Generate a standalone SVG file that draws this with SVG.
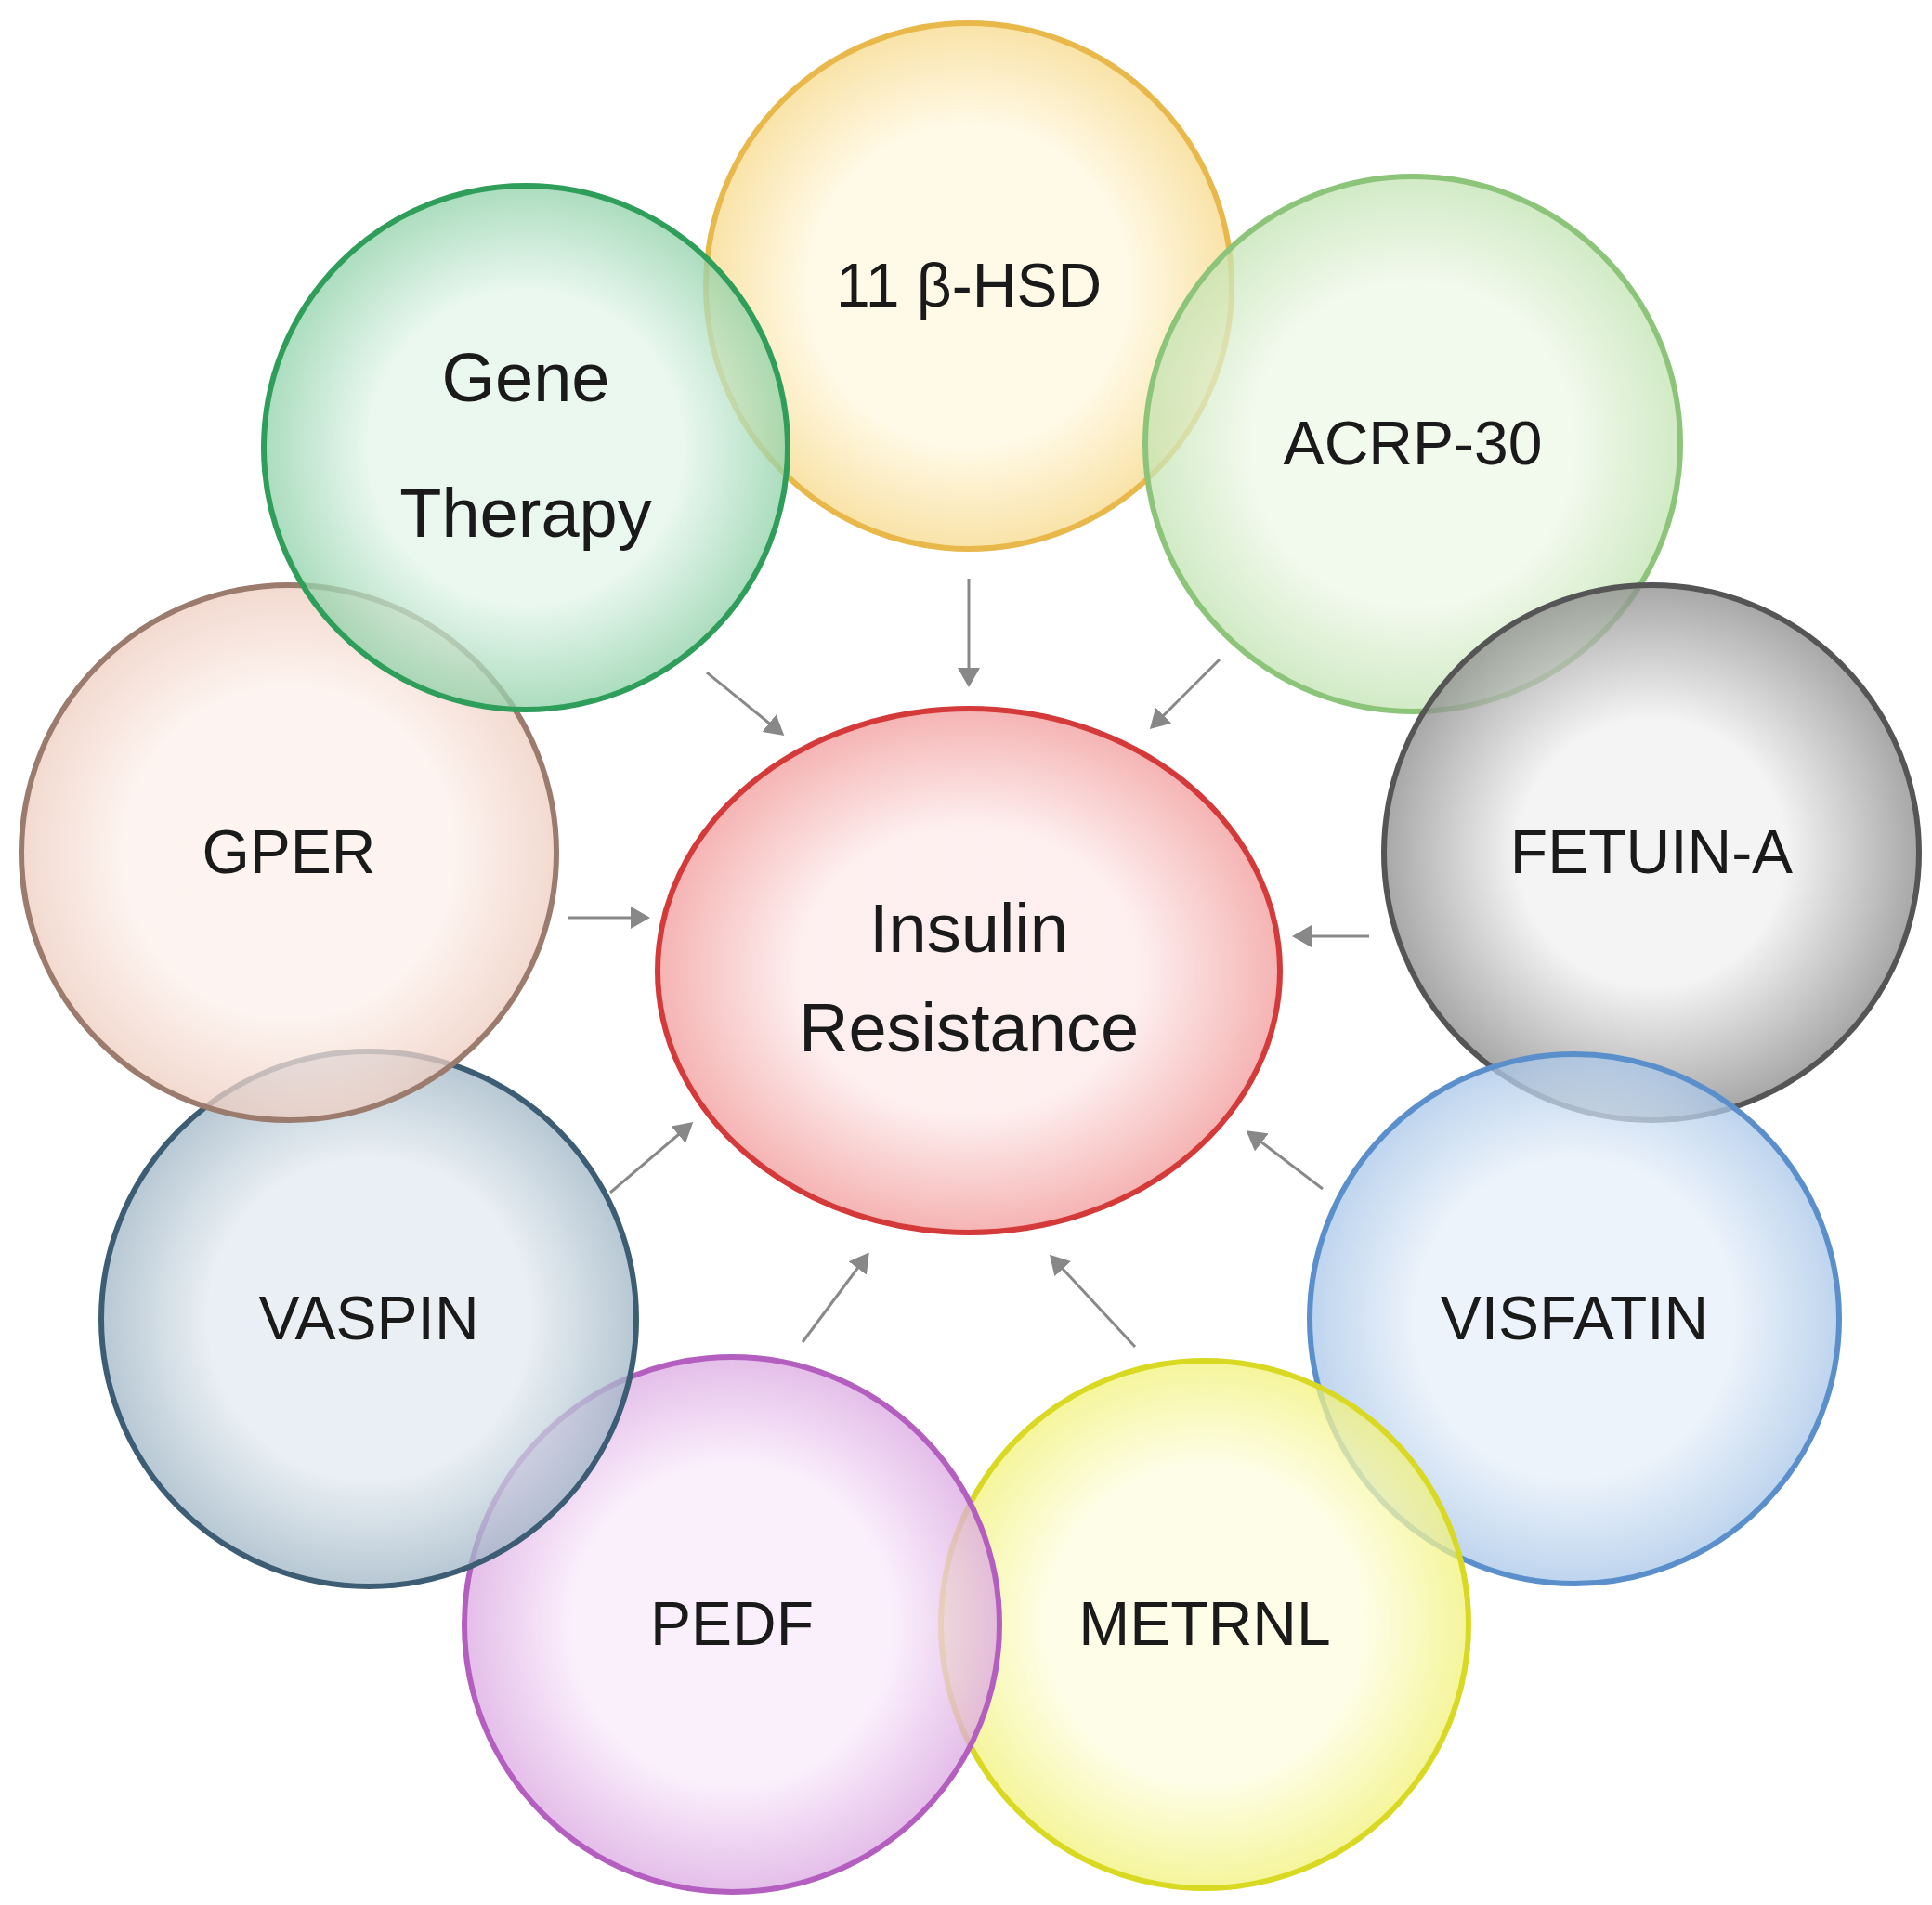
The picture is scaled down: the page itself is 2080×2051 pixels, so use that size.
<svg xmlns="http://www.w3.org/2000/svg" width="2080" height="2051" viewBox="0 0 2080 2051">
<style>
.n{stroke-width:6;fill-opacity:0.75}
.t{font-family:"Liberation Sans",Arial,sans-serif;font-size:66px;fill:#1a1a1a;text-anchor:middle}
.b{font-size:74px}
.c{stroke:#888;stroke-width:3;fill:none;marker-end:url(#a)}
</style>
<defs>
<marker id="a" markerWidth="8" markerHeight="8" refX="6" refY="4" orient="auto" markerUnits="strokeWidth"><path d="M0,0L7,4L0,8z" fill="#888"/></marker>
<radialGradient id="g1"><stop offset="0.6" stop-color="#fff8e0"/><stop offset="1" stop-color="#f7d98a"/></radialGradient>
<radialGradient id="g2"><stop offset="0.6" stop-color="#e3f5ea"/><stop offset="1" stop-color="#8fd1a8"/></radialGradient>
<radialGradient id="g3"><stop offset="0.6" stop-color="#eef8e8"/><stop offset="1" stop-color="#c2e3b2"/></radialGradient>
<radialGradient id="g4"><stop offset="0.5" stop-color="#f0f0f0"/><stop offset="1" stop-color="#8a8a8a"/></radialGradient>
<radialGradient id="g5"><stop offset="0.6" stop-color="#e6eff9"/><stop offset="1" stop-color="#a8c6e8"/></radialGradient>
<radialGradient id="g6"><stop offset="0.6" stop-color="#fdfde0"/><stop offset="1" stop-color="#f2f27a"/></radialGradient>
<radialGradient id="g7"><stop offset="0.6" stop-color="#f9eafb"/><stop offset="1" stop-color="#dba8e2"/></radialGradient>
<radialGradient id="g8"><stop offset="0.6" stop-color="#e2eaf0"/><stop offset="1" stop-color="#9fb5c5"/></radialGradient>
<radialGradient id="g9"><stop offset="0.6" stop-color="#fdf1ec"/><stop offset="1" stop-color="#eecdc0"/></radialGradient>
<radialGradient id="g0"><stop offset="0.55" stop-color="#fdeaea"/><stop offset="1" stop-color="#f29a9a"/></radialGradient>
</defs>
<g id="n-hsd"><circle class="n" cx="1043" cy="308" r="283" fill="url(#g1)" stroke="#e8b84a"/><text class="t" x="1043" y="330">11 β-HSD</text></g>
<g id="n-acrp"><circle class="n" cx="1521" cy="478" r="288" fill="url(#g3)" stroke="#8cc47a"/><text class="t" x="1521" y="500">ACRP-30</text></g>
<g id="n-fetuin"><circle class="n" cx="1778" cy="918" r="288" fill="url(#g4)" stroke="#555"/><text class="t" x="1778" y="940">FETUIN-A</text></g>
<g id="n-visfatin"><circle class="n" cx="1695" cy="1420" r="285" fill="url(#g5)" stroke="#5b8fcc"/><text class="t" x="1695" y="1442">VISFATIN</text></g>
<g id="n-metrnl"><circle class="n" cx="1297" cy="1749" r="284" fill="url(#g6)" stroke="#d9d923"/><text class="t" x="1297" y="1771">METRNL</text></g>
<g id="n-pedf"><circle class="n" cx="788" cy="1749" r="288" fill="url(#g7)" stroke="#b45fc0"/><text class="t" x="788" y="1771">PEDF</text></g>
<g id="n-vaspin"><circle class="n" cx="397" cy="1420" r="288" fill="url(#g8)" stroke="#3d5d74"/><text class="t" x="397" y="1442">VASPIN</text></g>
<g id="n-gper"><circle class="n" cx="311" cy="918" r="288" fill="url(#g9)" stroke="#9b7b6e"/><text class="t" x="311" y="940">GPER</text></g>
<g id="n-gene"><circle class="n" cx="566" cy="482" r="282" fill="url(#g2)" stroke="#2e9e5a"/><text class="t b" x="566" y="432">Gene</text><text class="t b" x="566" y="578">Therapy</text></g>
<g id="n-ir"><ellipse class="n" cx="1043" cy="1045" rx="335" ry="282" fill="url(#g0)" stroke="#d43a3a"/><text class="t b" x="1043" y="1025">Insulin</text><text class="t b" x="1043" y="1132">Resistance</text></g>
<g id="connectors">
<line class="c" x1="1043" y1="623" x2="1043" y2="737"/>
<line class="c" x1="761" y1="724" x2="842" y2="790"/>
<line class="c" x1="1313" y1="710" x2="1240" y2="783"/>
<line class="c" x1="612" y1="988" x2="697" y2="988"/>
<line class="c" x1="1474" y1="1008" x2="1394" y2="1008"/>
<line class="c" x1="657" y1="1284" x2="744" y2="1210"/>
<line class="c" x1="1424" y1="1280" x2="1344" y2="1219"/>
<line class="c" x1="864" y1="1445" x2="934" y2="1351"/>
<line class="c" x1="1222" y1="1450" x2="1132" y2="1353"/>
</g>
</svg>
